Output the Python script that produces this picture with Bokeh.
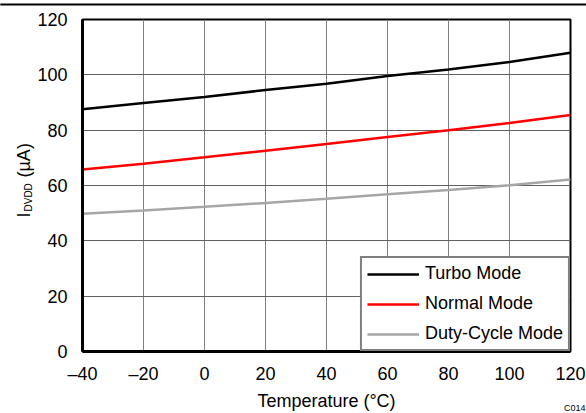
import numpy as np
from bokeh.plotting import figure
from bokeh.models import Range1d, Label, Legend, LegendItem, FixedTicker
from bokeh.embed import file_html
from bokeh.resources import INLINE

# ---- data ----
temps = [-40, -20, 0, 20, 40, 60, 80, 100, 120]
turbo = [87.6, 89.8, 92.0, 94.5, 96.8, 99.6, 101.9, 104.6, 108.0]
normal = [65.8, 67.9, 70.2, 72.6, 75.0, 77.5, 80.0, 82.6, 85.5]
duty = [49.8, 51.0, 52.3, 53.7, 55.2, 56.8, 58.4, 60.1, 62.2]
series_names = ["Turbo Mode", "Normal Mode", "Duty-Cycle Mode"]
x_ticks = [-40, -20, 0, 20, 40, 60, 80, 100, 120]
x_tick_labels = ["\u201340", "\u201320", "0", "20", "40", "60", "80", "100", "120"]
y_ticks = [0, 20, 40, 60, 80, 100, 120]
x_label = "Temperature (\u00b0C)"
y_label_main = "I" + "\u00a0" * 7 + "(\u00b5A)"
y_label_sub = "DVDD"
code_label = "C014"

# ---- layout (canvas coordinates; canvas at page origin) ----
W, H = 586, 413
FL, FR, FT, FB = 82, 570, 19, 351
XMIN, XMAX, YMIN, YMAX = -40, 120, 0, 120
FONT = "Liberation Sans"
FS = "18px"

p = figure(width=W, height=H, output_backend="svg", toolbar_location=None,
           x_range=Range1d(XMIN, XMAX), y_range=Range1d(YMIN, YMAX),
           min_border_left=FL, min_border_right=W - FR,
           min_border_top=FT, min_border_bottom=H - FB)

p.outline_line_color = "black"
p.outline_line_width = 2
p.background_fill_color = "white"
p.border_fill_color = "white"

for ax in (p.xaxis[0], p.yaxis[0]):
    ax.axis_line_color = "black"
    ax.axis_line_width = 3
    ax.major_tick_line_color = None
    ax.minor_tick_line_color = None
    ax.major_tick_out = 0
    ax.major_tick_in = 0
    ax.major_label_text_font = FONT
    ax.major_label_text_font_size = FS
    ax.major_label_text_color = "black"

p.xaxis.ticker = FixedTicker(ticks=x_ticks)
p.xaxis.major_label_overrides = {t: l for t, l in zip(x_ticks, x_tick_labels)}
p.xaxis.major_label_standoff = 12
p.xaxis.axis_label = x_label
p.xaxis.axis_label_text_font = FONT
p.xaxis.axis_label_text_font_size = FS
p.xaxis.axis_label_text_font_style = "normal"
p.xaxis.axis_label_text_color = "black"
p.xaxis.axis_label_standoff = 4

p.yaxis.ticker = FixedTicker(ticks=y_ticks)
p.yaxis.major_label_standoff = 15

p.xgrid.grid_line_color = "#808080"
p.xgrid.grid_line_width = 1
p.ygrid.grid_line_color = "#606060"
p.ygrid.grid_line_width = 1

colors = ["black", "#ff0000", "#a6a6a6"]
rs = []
for ys, c in zip([turbo, normal, duty], colors):
    rs.append(p.line(temps, ys, line_color=c, line_width=2.5))

legend = Legend(items=[LegendItem(label=n, renderers=[r]) for n, r in zip(series_names, rs)],
                location="bottom_right", margin=0, padding=5, spacing=9,
                label_height=20, glyph_height=20, glyph_width=52, label_standoff=6,
                border_line_color="black", border_line_width=2,
                background_fill_color="white", background_fill_alpha=1.0,
                label_text_font=FONT, label_text_font_size=FS, label_text_color="black")
p.add_layout(legend)


def clabel(x, y, text, size, **kw):
    return Label(x=x, y=y, x_units="canvas", y_units="canvas", text=text,
                 text_font=FONT, text_font_size=size, text_color="black", **kw)

# y-axis label (I ... (uA)) in the left panel, subscript in the right panel;
# both are positioned in canvas pixels, the panel only hosts them.
p.add_layout(clabel(23.5, 217, y_label_main, FS, angle=np.pi / 2,
                    text_align="left", text_baseline="alphabetic"), "left")
p.add_layout(clabel(27.5, 211, y_label_sub, "10px", angle=np.pi / 2,
                    text_align="left", text_baseline="alphabetic"), "right")
p.add_layout(clabel(585, 407, code_label, "9px", text_align="right",
                    text_baseline="alphabetic"), "above")

# top rule: an empty label whose padded background forms a thin black bar
p.add_layout(clabel(W / 2, 4, "\u00a0", "1px", text_align="center", text_baseline="middle",
                    background_fill_color="black", background_fill_alpha=1.0,
                    padding=dict(left=W // 2, right=W // 2, top=1, bottom=0)), "above")

open("out.html", "w").write(file_html(p, INLINE))
